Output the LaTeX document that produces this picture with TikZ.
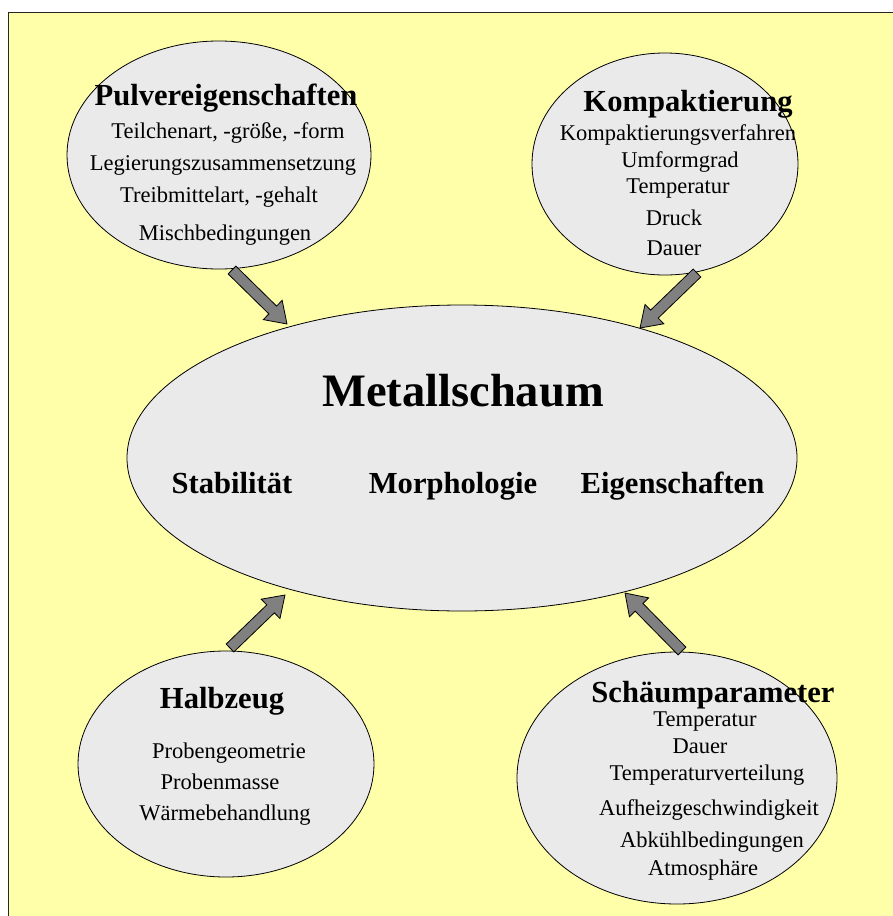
\documentclass[tikz,border=0pt]{standalone}
\usepackage{fontspec}
\setmainfont{Liberation Serif}
\usetikzlibrary{shapes.geometric,calc}
\definecolor{bgyellow}{RGB}{255,255,170}
\definecolor{ellgray}{RGB}{234,234,234}
\definecolor{arrgray}{RGB}{128,128,128}
\tikzset{
  bubble/.style={ellipse, draw=black, line width=0.8pt, fill=ellgray, inner sep=0pt},
  ttl/.style={anchor=base, inner sep=0pt, font=\fontsize{30.6}{34}\selectfont\bfseries},
  itm/.style={anchor=base, inner sep=0pt, font=\fontsize{22.5}{26}\selectfont},
  big/.style={anchor=base, inner sep=0pt, font=\fontsize{46.5}{50}\selectfont\bfseries},
  blockarrow/.style={draw=black, line width=0.8pt, fill=arrgray, line join=miter}
}
\newcommand\blockarr[2]{%
  \path[blockarrow] let \p1=($(#2)-(#1)$), \n1={atan2(\y1,\x1)}, \n2={veclen(\x1,\y1)} in
    [shift={(#1)}, rotate=\n1]
    (0,-5.5) -- (\n2-20,-5.5) -- (\n2-20,-13.5) -- (\n2,0) -- (\n2-20,13.5) -- (\n2-20,5.5) -- (0,5.5) -- cycle;}
\begin{document}
\begin{tikzpicture}[x=1pt,y=-1pt]
\useasboundingbox (0,0) rectangle (893,916);
\draw[fill=bgyellow, draw=black!85, line width=0.8pt] (8.5,12) rectangle (905,930);

% ellipses
\node[bubble, minimum width=304pt, minimum height=228pt] (pulv) at (219,155) {};
\node[bubble, minimum width=266pt, minimum height=222pt] (komp) at (665,164) {};
\node[bubble, minimum width=670pt, minimum height=306pt] (ms) at (462,458) {};
\node[bubble, minimum width=296pt, minimum height=226pt] (halb) at (226,764) {};
\node[bubble, minimum width=320pt, minimum height=252pt] (schaum) at (677,778) {};

% Pulvereigenschaften
\node[ttl] (pt) at (226,105) {Pulvereigenschaften};
\node[itm] (p1) at (228,138) {Teilchenart, -größe, -form};
\node[itm] (p2) at (223,170) {Legierungszusammensetzung};
\node[itm] (p3) at (219,202) {Treibmittelart, -gehalt};
\node[itm] (p4) at (225,240) {Mischbedingungen};

% Kompaktierung
\node[ttl] (kt) at (688,111) {Kompaktierung};
\node[itm] (k1) at (678,140) {Kompaktierungsverfahren};
\node[itm] (k2) at (680,167) {Umformgrad};
\node[itm] (k3) at (678,193) {Temperatur};
\node[itm] (k4) at (674,225) {Druck};
\node[itm] (k5) at (674,255) {Dauer};

% Metallschaum
\node[big] (mt) at (463,406) {Metallschaum};
\node[ttl] (m1) at (232,493) {Stabilität};
\node[ttl] (m2) at (453,493) {Morphologie};
\node[ttl] (m3) at (672.5,493) {Eigenschaften};

% Halbzeug
\node[ttl] (ht) at (222,708) {Halbzeug};
\node[itm] (h1) at (229,758) {Probengeometrie};
\node[itm] (h2) at (220,789) {Probenmasse};
\node[itm] (h3) at (225,820) {Wärmebehandlung};

% Schaeumparameter
\node[ttl] (st) at (713,702) {Schäumparameter};
\node[itm] (s1) at (705,726) {Temperatur};
\node[itm] (s2) at (700,753) {Dauer};
\node[itm] (s3) at (707,780) {Temperaturverteilung};
\node[itm] (s4) at (709,815) {Aufheizgeschwindigkeit};
\node[itm] (s5) at (712,847) {Abkühlbedingungen};
\node[itm] (s6) at (703,875) {Atmosphäre};

% arrows
\coordinate (a1s) at (232,270); \coordinate (a1e) at (287,324);
\coordinate (a2s) at (697,273); \coordinate (a2e) at (640,328);
\coordinate (a3s) at (230,648); \coordinate (a3e) at (285,595);
\coordinate (a4s) at (682,651); \coordinate (a4e) at (625,593);
\blockarr{a1s}{a1e}
\blockarr{a2s}{a2e}
\blockarr{a3s}{a3e}
\blockarr{a4s}{a4e}
\end{tikzpicture}
\end{document}
